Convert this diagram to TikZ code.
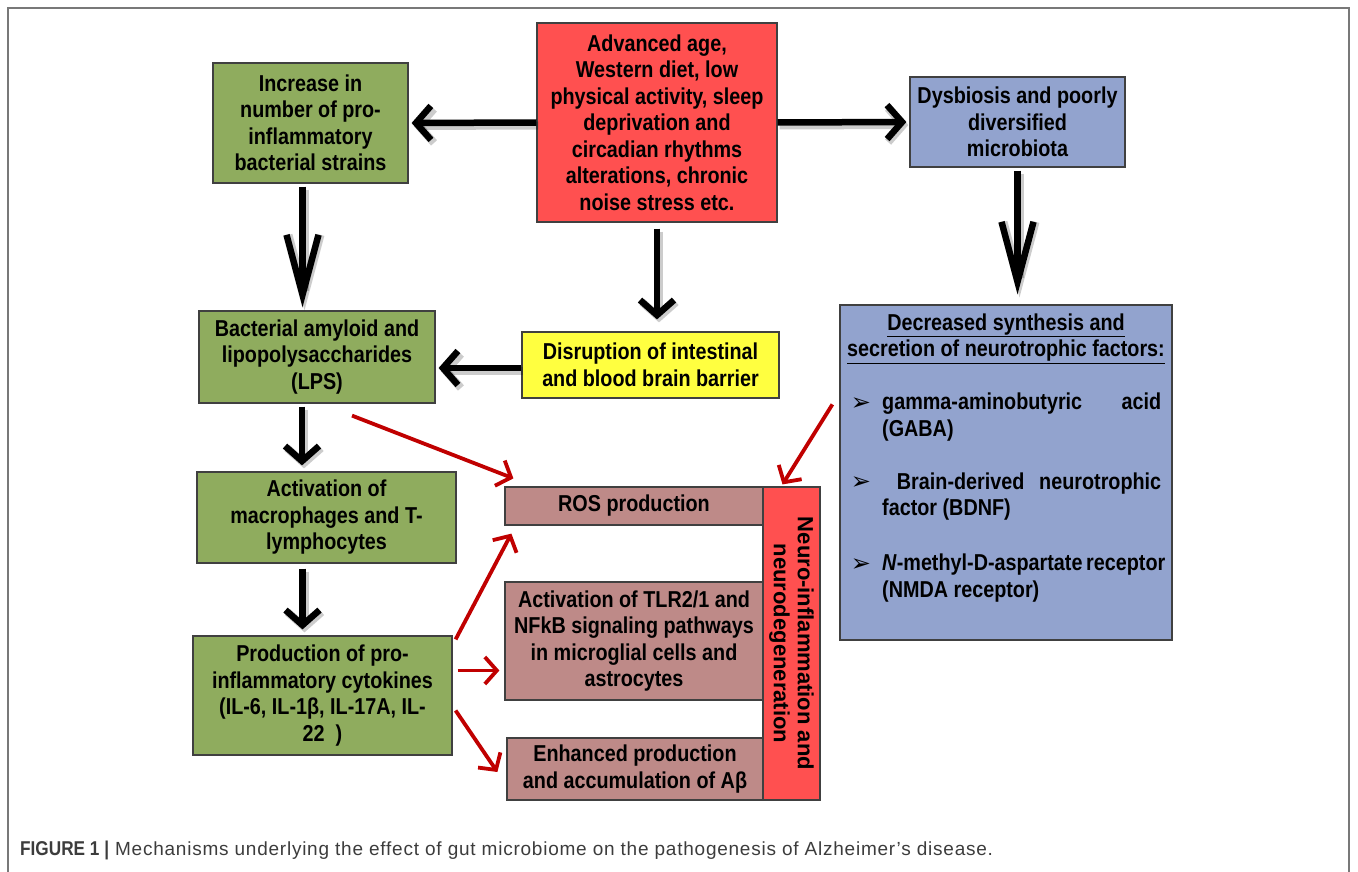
\documentclass[tikz,border=0pt]{standalone}
\usepackage{fontspec}
\setmainfont{Liberation Sans}
\newfontfamily\narrowfont{Liberation Sans}[FakeStretch=0.86]
\newfontfamily\capfont{Liberation Sans}[LetterSpace=4]
\newfontfamily\symfont{DejaVu Sans}
\usetikzlibrary{arrows.meta}

\definecolor{leafgreen}{RGB}{143,172,94}
\definecolor{causered}{RGB}{255,80,80}
\definecolor{mildblue}{RGB}{146,163,206}
\definecolor{barrieryellow}{RGB}{255,255,64}
\definecolor{dustrose}{RGB}{190,138,136}
\definecolor{boxline}{RGB}{64,64,64}
\definecolor{arrowred}{RGB}{192,0,0}
\definecolor{framegray}{RGB}{120,120,120}
\definecolor{captiongray}{RGB}{60,60,60}

\tikzset{
	box/.style={draw=boxline, line width=1.2pt, inner sep=0pt, align=center,
		font=\narrowfont\bfseries\fontsize{23}{26.5}\selectfont},
	greenbox/.style={box, fill=leafgreen},
	redbox/.style={box, fill=causered},
	bluebox/.style={box, fill=mildblue},
	yellowbox/.style={box, fill=barrieryellow},
	rosebox/.style={box, fill=dustrose},
	blkarrow/.style={line width=6.5pt, -{Straight Barb[length=15pt,width=34pt]},
		preaction={draw=black, opacity=0.2, line width=8pt, transform canvas={shift={(2pt,-3pt)}}}},
	longarrow/.style={blkarrow, -{Straight Barb[length=60pt,width=32pt]}},
	redarrow/.style={line width=3.8pt, draw=arrowred, -{Straight Barb[length=12pt,width=27pt]}},
	itemtext/.style={inner sep=0pt, align=left, anchor=west,
		font=\narrowfont\bfseries\fontsize{23}{26.5}\selectfont},
	bullet/.style={inner sep=0pt, font=\symfont\fontsize{24}{24}\selectfont}
}

\begin{document}
\begin{tikzpicture}[x=1pt,y=-1pt]
	\useasboundingbox (0,0) rectangle (1358,872);
	\draw[framegray, line width=1.2pt] (8,872) -- (8,8) -- (1349,8) -- (1349,872);

	\node[redbox, minimum width=240pt, minimum height=199pt](cause) at (657,122.5) {Advanced age,\\Western diet, low\\physical activity, sleep\\deprivation and\\circadian rhythms\\alterations, chronic\\noise stress etc.};
	\node[greenbox, minimum width=195pt, minimum height=120pt](incr) at (310.5,123) {Increase in\\number of pro-\\inflammatory\\bacterial strains};
	\node[bluebox, minimum width=215pt, minimum height=90pt](dysb) at (1017.5,122) {Dysbiosis and poorly\\diversified\\microbiota};
	\node[yellowbox, minimum width=257pt, minimum height=66pt](disr) at (650.5,365) {Disruption of intestinal\\and blood brain barrier};
	\node[greenbox, minimum width=236pt, minimum height=92pt](lps) at (317,357) {Bacterial amyloid and\\lipopolysaccharides\\(LPS)};
	\node[greenbox, minimum width=259pt, minimum height=91pt](act) at (326.5,517.5) {Activation of\\macrophages and T-\\lymphocytes};
	\node[greenbox, minimum width=259pt, minimum height=119pt](prod) at (322.5,695.5) {Production of pro-\\inflammatory cytokines\\(IL-6, IL-1β, IL-17A, IL-\\22\ \ )};
	\node[rosebox, minimum width=258pt, minimum height=38pt](ros) at (634,506) {ROS production};
	\node[rosebox, minimum width=258pt, minimum height=118pt](tlr) at (634,641) {Activation of TLR2/1 and\\NFkB signaling pathways\\in microglial cells and\\astrocytes};
	\node[rosebox, minimum width=256pt, minimum height=62pt](abeta) at (635,769) {Enhanced production\\and accumulation of Aβ};
	\node[redbox, rotate=-90, minimum width=313pt, minimum height=57pt,
		font=\bfseries\fontsize{22}{24}\selectfont](neuro) at (791.5,643.5) {Neuro-inflammation and\\neurodegeneration};

	% neurotrophic factors box
	\node[bluebox, minimum width=332pt, minimum height=335pt](factors) at (1006,472.5) {};
	\node[itemtext, anchor=center, align=center](fhead) at (1006,338.5) {\underline{Decreased synthesis and}\\\underline{secretion of neurotrophic factors:}};
	\node[bullet](b1) at (861,404) {➢};
	\node[bullet](b2) at (861,483) {➢};
	\node[bullet](b3) at (861,565) {➢};
	\node[itemtext](fgaba) at (882,417) {\makebox[279pt][s]{gamma-aminobutyric acid}\\(GABA)};
	\node[itemtext](fbdnf) at (882,496.5) {\makebox[279pt][s]{\ Brain-derived neurotrophic}\\factor (BDNF)};
	\node[itemtext](fnmda) at (882,578) {\makebox[279pt][s]{\textit{N}-methyl-D-aspartate receptor}\\(NMDA receptor)};

	\node[anchor=west, inner sep=0pt, text=captiongray, font=\capfont\fontsize{19}{22}\selectfont](caption) at (20,850) {{\narrowfont\bfseries\fontsize{20}{22}\selectfont FIGURE 1 |}\ Mechanisms underlying the effect of gut microbiome on the pathogenesis of Alzheimer’s disease.};

	% black arrows
	\draw[blkarrow] (cause.west) -- ([xshift=3pt]incr.east);
	\draw[blkarrow] (cause.east) -- ([xshift=-3pt]dysb.west);
	\draw[blkarrow] ([yshift=-6pt]cause.south) -- ([yshift=12pt]cause.south |- disr.north);
	\draw[longarrow] ([xshift=-8pt,yshift=-3pt]incr.south) -- ([xshift=-8pt,yshift=3pt]incr.south |- lps.north);
	\draw[longarrow] ([yshift=-3pt]dysb.south) -- ([yshift=10pt]dysb.south |- factors.north);
	\draw[blkarrow] ([yshift=-3pt]disr.west) -- ([xshift=3pt,yshift=-3pt]disr.west -| lps.east);
	\draw[blkarrow] ([xshift=-15pt,yshift=-3pt]lps.south) -- ([xshift=-15pt,yshift=6pt]lps.south |- act.north);
	\draw[blkarrow] ([xshift=-24pt,yshift=-5pt]act.south) -- ([xshift=-24pt,yshift=6pt]act.south |- prod.north);

	% red arrows
	\coordinate (pmid) at ([xshift=5pt,yshift=25pt]prod.east);
	\draw[redarrow] ([xshift=35pt,yshift=-12pt]lps.south) -- ([xshift=9pt,yshift=8pt]ros.north west);
	\draw[redarrow] ([xshift=3pt,yshift=-4pt]prod.north east) -- ([xshift=7pt,yshift=-8pt]ros.south west);
	\draw[redarrow, shorten >=5pt] (pmid) -- (pmid -| tlr.west);
	\draw[redarrow] ([xshift=3pt,yshift=-15pt]prod.east) -- ([xshift=-9pt,yshift=-3pt]abeta.west);
	\draw[redarrow] ([xshift=-7pt,yshift=-100pt]factors.north west) -- ([xshift=-9pt,yshift=2pt]neuro.west);
\end{tikzpicture}
\end{document}
